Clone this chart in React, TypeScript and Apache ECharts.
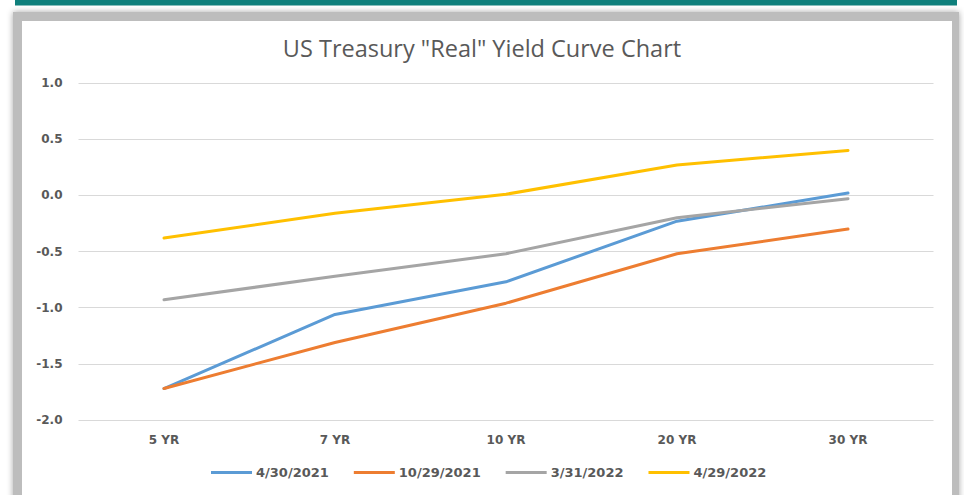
import React, { useEffect, useRef } from "react";
import * as echarts from "echarts";

const categories = ["5 YR", "7 YR", "10 YR", "20 YR", "30 YR"];
const seriesNames = ["4/30/2021", "10/29/2021", "3/31/2022", "4/29/2022"];
const apr2021 = [-1.72, -1.06, -0.77, -0.23, 0.02];
const oct2021 = [-1.72, -1.31, -0.96, -0.52, -0.3];
const mar2022 = [-0.93, -0.72, -0.52, -0.2, -0.03];
const apr2022 = [-0.38, -0.16, 0.01, 0.27, 0.4];
const yTicks = { min: -2, max: 1, interval: 0.5 };
const colors = ["#5b9bd5", "#ed7d31", "#a5a5a5", "#ffc000"];

export default function App() {
  const ref = useRef<HTMLDivElement>(null);
  useEffect(() => {
    if (!ref.current) return;
    const chart = echarts.init(ref.current, undefined, { renderer: "svg" });
    const values = [apr2021, oct2021, mar2022, apr2022];
    chart.setOption({
      animation: false,
      backgroundColor: "#ffffff",
      graphic: [
        { type: "rect", z: -10, shape: { x: 15, y: 0, width: 942, height: 5.5 }, style: { fill: "#0e7f7b" } },
        {
          type: "rect",
          z: -10,
          shape: { x: 13, y: 12, width: 946, height: 500 },
          style: { fill: "#bdbdbd", shadowBlur: 6, shadowColor: "rgba(0,0,0,0.35)" },
        },
        { type: "rect", z: -9, shape: { x: 22, y: 21, width: 930, height: 480 }, style: { fill: "#ffffff" } },
      ],
      title: {
        text: 'US Treasury "Real" Yield Curve Chart',
        left: "center",
        top: 31,
        textStyle: { fontFamily: "Open Sans", fontSize: 23.5, fontWeight: "normal", color: "#595959" },
      },
      color: colors,
      grid: { left: 78.5, right: 30.5, top: 83, bottom: 75 },
      xAxis: {
        type: "category",
        data: categories,
        boundaryGap: true,
        axisLine: { show: false },
        axisTick: { show: false },
        axisLabel: { margin: 14, fontFamily: "DejaVu Sans", fontWeight: "bold", fontSize: 12, color: "#595959" },
      },
      yAxis: {
        type: "value",
        min: yTicks.min,
        max: yTicks.max,
        interval: yTicks.interval,
        axisLabel: {
          margin: 16,
          fontFamily: "DejaVu Sans",
          fontWeight: "bold",
          fontSize: 12,
          color: "#595959",
          formatter: (v: number) => v.toFixed(1),
        },
        splitLine: { lineStyle: { color: "#d9d9d9", width: 1 } },
      },
      legend: {
        data: seriesNames,
        left: 206,
        top: 461,
        icon: "rect",
        itemWidth: 41,
        itemHeight: 3,
        itemGap: 25,
        textStyle: { fontFamily: "DejaVu Sans", fontWeight: "bold", fontSize: 13, color: "#595959", padding: [0, 0, 0, -1] },
      },
      series: seriesNames.map((name, i) => ({
        name,
        type: "line",
        data: values[i],
        symbol: "none",
        lineStyle: { width: 3, color: colors[i], cap: "round" },
        itemStyle: { color: colors[i] },
      })),
    });
    return () => chart.dispose();
  }, []);
  return (
    <div style={{ position: "fixed", left: 0, top: 0, width: 964, height: 495, background: "#fff" }}>
      <div ref={ref} style={{ width: 964, height: 495 }} />
    </div>
  );
}
